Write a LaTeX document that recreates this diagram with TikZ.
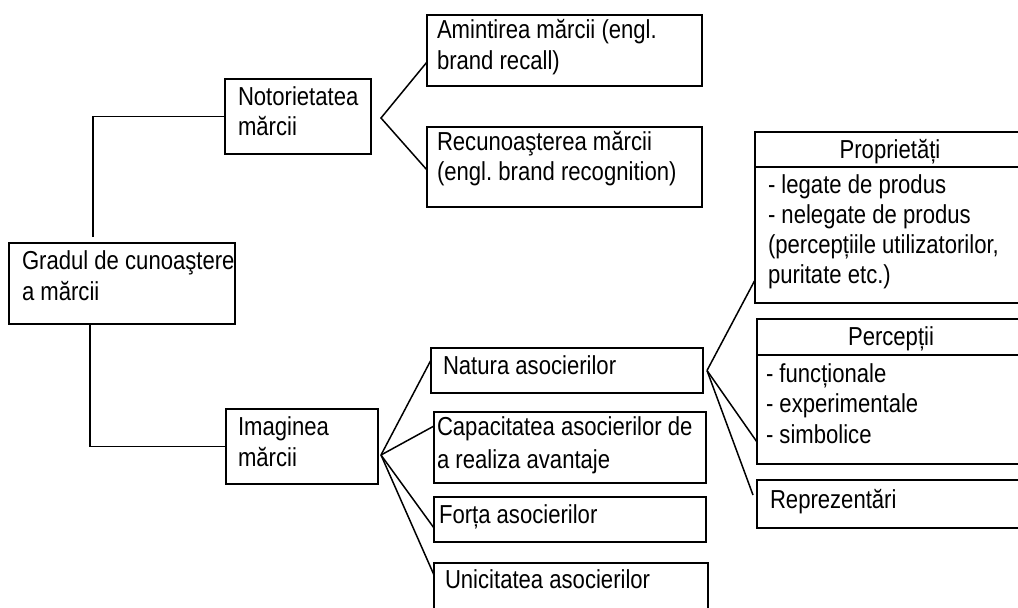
\documentclass[tikz,border=0pt]{standalone}
\usepackage{fontspec}
\setmainfont{Liberation Sans}[FakeStretch=0.85]
\frenchspacing
\begin{document}
\begin{tikzpicture}[x=1pt,y=1pt,
  box/.style={draw, line width=1.7pt, minimum width=#1, inner sep=0, outer sep=0, anchor=north west},
  conn/.style={line width=1.5pt},
  txt/.style={inner sep=0, outer sep=0, anchor=base west, font=\fontsize{26}{30}\selectfont},
  head/.style={inner sep=0, outer sep=0, anchor=base, font=\fontsize{26}{30}\selectfont}]
\clip (0,0) rectangle (1018,-608);

% boxes
\node[box=226, minimum height=81] (root) at (9,-243) {};
\node[box=146, minimum height=75] (noto) at (225,-79) {};
\node[box=275, minimum height=71] (amint) at (427,-15) {};
\node[box=275, minimum height=80] (recun) at (427,-127) {};
\node[box=152, minimum height=75] (imag) at (226,-409) {};
\node[box=272, minimum height=45] (natura) at (431,-348) {};
\node[box=272, minimum height=71] (capac) at (434,-412) {};
\node[box=272, minimum height=45] (forta) at (434,-497) {};
\node[box=274, minimum height=60] (unic) at (434,-563) {};
\node[box=270, minimum height=171] (propr) at (755,-132) {};
\node[box=268, minimum height=145] (percep) at (757,-319) {};
\node[box=268, minimum height=48] (repr) at (757,-480) {};

% header rules of the two titled boxes
\draw[line width=1.7pt] ([yshift=-35]propr.north west) -- ([yshift=-35]propr.north east);
\draw[line width=1.7pt] ([yshift=-36]percep.north west) -- ([yshift=-36]percep.north east);

% texts
\node[txt] (tRootA) at (22,-269) {Gradul de cunoaştere};
\node[txt] (tRootB) at (22,-300) {a mărcii};
\node[txt] (tNotoA) at (238,-105) {Notorietatea};
\node[txt] (tNotoB) at (238,-135) {mărcii};
\node[txt] (tAmintA) at (437,-38) {Amintirea mărcii (engl.};
\node[txt] (tAmintB) at (437,-69) {brand recall)};
\node[txt] (tRecunA) at (437,-150) {Recunoaşterea mărcii};
\node[txt] (tRecunB) at (437,-180) {(engl. brand recognition)};
\node[txt] (tImagA) at (238,-435) {Imaginea};
\node[txt] (tImagB) at (238,-466) {mărcii};
\node[txt] (tNatura) at (443,-374) {Natura asocierilor};
\node[txt] (tCapacA) at (437,-435) {Capacitatea asocierilor de};
\node[txt] (tCapacB) at (437,-468) {a realiza avantaje};
\node[txt] (tForta) at (439,-523) {Forța asocierilor};
\node[txt] (tUnic) at (445,-588) {Unicitatea asocierilor};
\node[head] (tPropr) at (890,-158) {Proprietăți};
\node[txt] (tProprA) at (768,-193) {- legate de produs};
\node[txt] (tProprB) at (768,-223) {- nelegate de produs};
\node[txt] (tProprC) at (768,-253) {(percepțiile utilizatorilor,};
\node[txt] (tProprD) at (768,-283) {puritate etc.)};
\node[head] (tPercep) at (891,-345) {Percepții};
\node[txt] (tPercepA) at (766,-382) {- funcționale};
\node[txt] (tPercepB) at (766,-412) {- experimentale};
\node[txt] (tPercepC) at (766,-443) {- simbolice};
\node[txt] (tRepr) at (770,-508) {Reprezentări};

% junction points
\coordinate (jn) at (93,-116.5);
\coordinate (ji) at (90,-446.5);
\coordinate (fn) at ([shift={(10,-1.5)}]noto.east);
\coordinate (fi) at ([shift={(3,-8.5)}]imag.east);
\coordinate (fa) at ([xshift=4]natura.east);

% connectors
\draw[conn, shorten <=6pt] (root.north -| jn) -- (jn) -- (noto.west);
\draw[conn] (root.south -| ji) -- (ji) -- (imag.west);

\draw[conn] ([yshift=-11.5]amint.west) -- (fn) -- ([yshift=-3]recun.west);

\draw[conn] ([yshift=10.5]natura.west) -- (fi);
\draw[conn] ([yshift=21.5]capac.west) -- (fi);
\draw[conn] ([yshift=-8.5]forta.west) -- (fi);
\draw[conn] ([yshift=-12]unic.north west) -- (fi);

\draw[conn] ([yshift=23]propr.south west) -- (fa);
\draw[conn] ([yshift=22]percep.south west) -- (fa);
\draw[conn] ([shift={(-4,9)}]repr.west) -- (fa);
\end{tikzpicture}
\end{document}
